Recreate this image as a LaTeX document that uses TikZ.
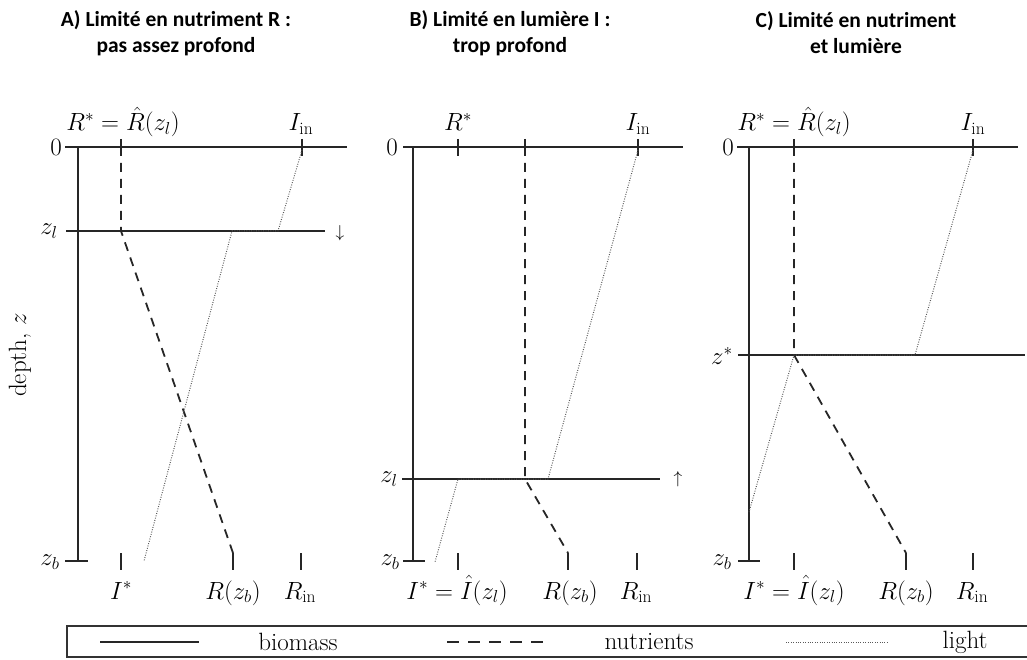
\documentclass[tikz,border=0pt]{standalone}
\usepackage{fontspec}
\newfontfamily\titlefont{Carlito}
\begin{document}
\begin{tikzpicture}[x=1pt,y=-1pt,
  axis/.style={line width=1.6pt, black!85},
  tk/.style={line width=1.4pt, black!85},
  nutr/.style={line width=1.8pt, black!85, dash pattern=on 9pt off 7pt},
  lightl/.style={line width=1pt, black!65, dash pattern=on 0.9pt off 1.5pt},
  lab/.style={font=\fontsize{25}{28}\selectfont, inner sep=0pt},
  blab/.style={lab, anchor=base},
  ttl/.style={font=\titlefont\bfseries\fontsize{21.5}{26}\selectfont, align=center, inner sep=0pt}]
\useasboundingbox (0,0) rectangle (1027,660);

% titles
\node[ttl] (tA) at (176,33) {A) Limité en nutriment R :\\pas assez profond};
\node[ttl] (tB) at (510,33) {B) Limité en lumière I :\\trop profond};
\node[ttl] (tC) at (856,33) {C) Limité en nutriment\\et lumière};

% depth label
\node[lab, rotate=90] (depth) at (20,355) {depth, $z$};

% ================= Panel A =================
\coordinate (A0l) at (65,147); \coordinate (A0r) at (347,147);
\coordinate (Atop) at (78,147); \coordinate (Abot) at (78,561);
\coordinate (Azbl) at (65,561); \coordinate (Azbr) at (88,561);
\coordinate (Azll) at (66,231); \coordinate (Azlr) at (325,231);
\draw[axis] (A0l) -- (A0r);
\draw[axis] (Atop) -- (Abot);
\draw[axis] (Azbl) -- (Azbr);
\draw[axis] (Azll) -- (Azlr);
\coordinate (At1a) at (121,139); \coordinate (At1b) at (121,156);
\coordinate (At2a) at (302,139); \coordinate (At2b) at (302,156);
\draw[tk] (At1a) -- (At1b); \draw[tk] (At2a) -- (At2b);
\coordinate (Ab1a) at (121,553); \coordinate (Ab1b) at (121,570);
\coordinate (Ab2a) at (233,553); \coordinate (Ab2b) at (233,570);
\coordinate (Ab3a) at (301,553); \coordinate (Ab3b) at (301,570);
\draw[tk] (Ab1a) -- (Ab1b); \draw[tk] (Ab2a) -- (Ab2b); \draw[tk] (Ab3a) -- (Ab3b);
\coordinate (And1) at (121,147); \coordinate (And2) at (121,231); \coordinate (And3) at (233,553);
\draw[nutr] (And1) -- (And2) -- (And3);
\coordinate (Ali1) at (302,150); \coordinate (Ali2) at (278,231);
\coordinate (Ali3) at (232,231); \coordinate (Ali4) at (144,561);
\draw[lightl] (Ali1) -- (Ali2) -- (Ali3) -- (Ali4);
\node[lab] (A0) at (56,147) {0};
\node[lab] (Azl) at (49,231) {$z_l$};
\node[lab] (Azb) at (50,562) {$z_b$};
\node[blab] (ARs) at (123,131) {$R^* = \hat R(z_l)$};
\node[blab] (AIin) at (301,131) {$I_{\mathrm{in}}$};
\node[blab] (AIs) at (121,599) {$I^*$};
\node[blab] (ARzb) at (233,599) {$R(z_b)$};
\node[blab] (ARin) at (300,599) {$R_{\mathrm{in}}$};
\node[lab, font=\fontsize{18}{20}\selectfont] (Aarr) at (340,233) {$\downarrow$};

% ================= Panel B =================
\coordinate (B0l) at (403,147); \coordinate (B0r) at (683,147);
\coordinate (Btop) at (413,147); \coordinate (Bbot) at (413,561);
\coordinate (Bzbl) at (403,561); \coordinate (Bzbr) at (425,561);
\coordinate (Bzll) at (402,479); \coordinate (Bzlr) at (660,479);
\draw[axis] (B0l) -- (B0r);
\draw[axis] (Btop) -- (Bbot);
\draw[axis] (Bzbl) -- (Bzbr);
\draw[axis] (Bzll) -- (Bzlr);
\coordinate (Bt1a) at (458,139); \coordinate (Bt1b) at (458,156);
\coordinate (Bt2a) at (525,139); \coordinate (Bt2b) at (525,156);
\coordinate (Bt3a) at (638,139); \coordinate (Bt3b) at (638,156);
\draw[tk] (Bt1a) -- (Bt1b); \draw[tk] (Bt2a) -- (Bt2b); \draw[tk] (Bt3a) -- (Bt3b);
\coordinate (Bb1a) at (458,553); \coordinate (Bb1b) at (458,570);
\coordinate (Bb2a) at (568,553); \coordinate (Bb2b) at (568,570);
\coordinate (Bb3a) at (637,553); \coordinate (Bb3b) at (637,570);
\draw[tk] (Bb1a) -- (Bb1b); \draw[tk] (Bb2a) -- (Bb2b); \draw[tk] (Bb3a) -- (Bb3b);
\coordinate (Bnd1) at (525,147); \coordinate (Bnd2) at (525,479); \coordinate (Bnd3) at (568,553);
\draw[nutr] (Bnd1) -- (Bnd2) -- (Bnd3);
\coordinate (Bli1) at (638,150); \coordinate (Bli2) at (548,479);
\coordinate (Bli3) at (458,479); \coordinate (Bli4) at (435,562);
\draw[lightl] (Bli1) -- (Bli2) -- (Bli3) -- (Bli4);
\node[lab] (B0) at (392,147) {0};
\node[lab] (Bzl) at (389,479) {$z_l$};
\node[lab] (Bzb) at (390,562) {$z_b$};
\node[blab] (BRs) at (458,131) {$R^*$};
\node[blab] (BIin) at (638,131) {$I_{\mathrm{in}}$};
\node[blab] (BIs) at (457,599) {$I^* = \hat I(z_l)$};
\node[blab] (BRzb) at (570,599) {$R(z_b)$};
\node[blab] (BRin) at (636,599) {$R_{\mathrm{in}}$};
\node[lab, font=\fontsize{18}{20}\selectfont] (Barr) at (678,479) {$\uparrow$};

% ================= Panel C =================
\coordinate (C0l) at (737,147); \coordinate (C0r) at (1018,147);
\coordinate (Ctop) at (749,147); \coordinate (Cbot) at (749,561);
\coordinate (Czbl) at (738,561); \coordinate (Czbr) at (760,561);
\coordinate (Czsl) at (738,355); \coordinate (Czsr) at (1025,355);
\draw[axis] (C0l) -- (C0r);
\draw[axis] (Ctop) -- (Cbot);
\draw[axis] (Czbl) -- (Czbr);
\draw[axis] (Czsl) -- (Czsr);
\coordinate (Ct1a) at (794,139); \coordinate (Ct1b) at (794,156);
\coordinate (Ct2a) at (973,139); \coordinate (Ct2b) at (973,156);
\draw[tk] (Ct1a) -- (Ct1b); \draw[tk] (Ct2a) -- (Ct2b);
\coordinate (Cb1a) at (794,553); \coordinate (Cb1b) at (794,570);
\coordinate (Cb2a) at (906,553); \coordinate (Cb2b) at (906,570);
\coordinate (Cb3a) at (973,553); \coordinate (Cb3b) at (973,570);
\draw[tk] (Cb1a) -- (Cb1b); \draw[tk] (Cb2a) -- (Cb2b); \draw[tk] (Cb3a) -- (Cb3b);
\coordinate (Cnd1) at (794,147); \coordinate (Cnd2) at (794,355); \coordinate (Cnd3) at (906,553);
\draw[nutr] (Cnd1) -- (Cnd2) -- (Cnd3);
\coordinate (Cli1) at (973,150); \coordinate (Cli2) at (915,355);
\coordinate (Cli3) at (794,355); \coordinate (Cli4) at (749,512);
\draw[lightl] (Cli1) -- (Cli2) -- (Cli3) -- (Cli4);
\node[lab] (C0) at (728,147) {0};
\node[lab] (Czs) at (722,356) {$z^*$};
\node[lab] (Czb) at (722,562) {$z_b$};
\node[blab] (CRs) at (794,131) {$R^* = \hat R(z_l)$};
\node[blab] (CIin) at (973,131) {$I_{\mathrm{in}}$};
\node[blab] (CIs) at (794,599) {$I^* = \hat I(z_l)$};
\node[blab] (CRzb) at (906,599) {$R(z_b)$};
\node[blab] (CRin) at (972,599) {$R_{\mathrm{in}}$};

% ================= Legend =================
\coordinate (Lbl) at (67,626); \coordinate (Lbr) at (1040,657);
\draw[line width=1.5pt, black!80] (Lbl) rectangle (Lbr);
\coordinate (L1a) at (100,642); \coordinate (L1b) at (199,642);
\draw[axis, line width=1.2pt] (L1a) -- (L1b);
\node[lab] (Lbio) at (298,642) {biomass};
\coordinate (L2a) at (447,642); \coordinate (L2b) at (545,642);
\draw[nutr, line width=1.4pt, dash pattern=on 12pt off 9pt] (L2a) -- (L2b);
\node[lab] (Lnut) at (649,642) {nutrients};
\coordinate (L3a) at (786,642); \coordinate (L3b) at (888,642);
\draw[lightl] (L3a) -- (L3b);
\node[lab] (Llig) at (965,642) {light};
\end{tikzpicture}
\end{document}
